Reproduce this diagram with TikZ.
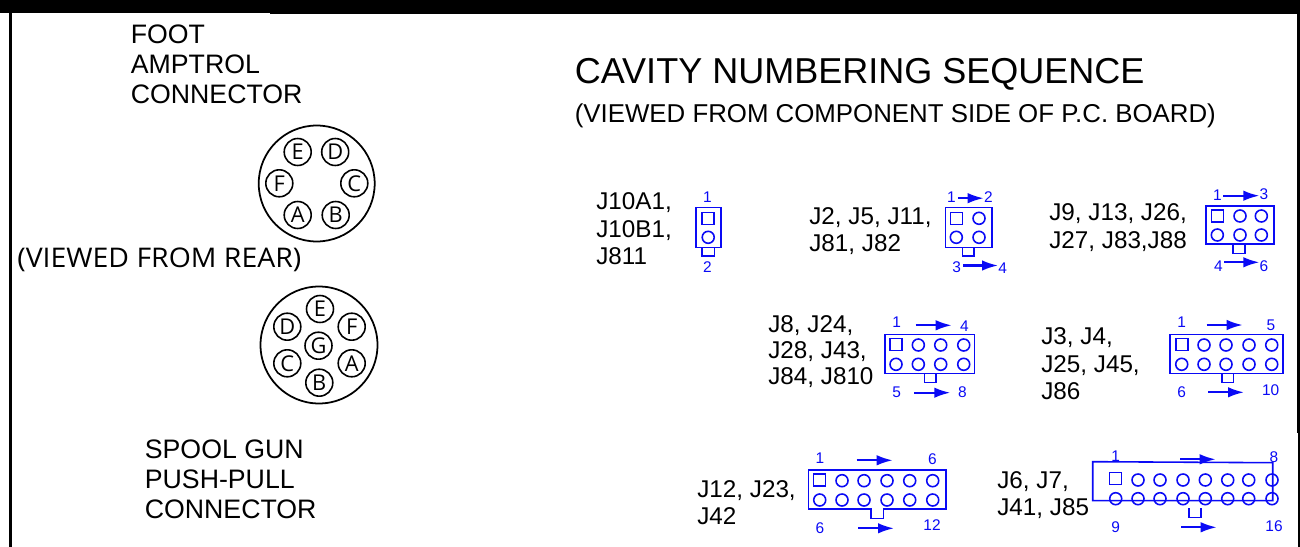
\documentclass[tikz,border=0pt]{standalone}
\usepackage{fontspec}
\setmainfont{Liberation Sans}
\newfontfamily\pinfont{Open Sans}
\usetikzlibrary{arrows.meta}
\definecolor{pinblue}{RGB}{10,10,245}
\tikzset{
  title/.style={anchor=west,inner sep=0pt,font=\fontsize{20.5pt}{20.5pt}\selectfont},
  subtitle/.style={anchor=west,inner sep=0pt,font=\fontsize{14.7pt}{15pt}\selectfont},
  legend/.style={anchor=west,inner sep=0pt,align=left,font=\fontsize{15.2pt}{17pt}\selectfont},
  jlist/.style={anchor=west,inner sep=0pt,align=left,font=\fontsize{13.8pt}{15.6pt}\selectfont},
  jtight/.style={jlist,font=\fontsize{13.8pt}{15pt}\selectfont},
  pin/.style={circle,draw,line width=0.9pt,minimum size=0.54cm,inner sep=0pt,font=\pinfont\fontsize{12.4pt}{12.4pt}\selectfont},
  num/.style={text=pinblue,inner sep=0pt,font=\fontsize{8.8pt}{8.8pt}\selectfont},
  cavity/.style={circle,draw=pinblue,line width=0.9pt,minimum size=0.24cm,inner sep=0pt},
  cavityone/.style={rectangle,draw=pinblue,line width=0.9pt,minimum size=0.24cm,inner sep=0pt},
  shell/.style={draw=pinblue,line width=0.9pt},
  seq/.style={draw=pinblue,line width=1.2pt,-{Latex[length=3.2mm,width=2.1mm]}},
}
\begin{document}
\begin{tikzpicture}[x=0.02cm,y=-0.02cm]
  \useasboundingbox (0,0) rectangle (1300,547);
  % sheet edges
  \fill (0,0) rectangle (1300,13.4);
  \fill (270,13) rectangle (1300,14.4);
  \fill (9.4,13) rectangle (11.7,547);
  \fill (1296.6,13) rectangle (1300,433);
  \fill (1298,433) rectangle (1300,547);

  % round connectors
  \node[legend] (foot) at (130.5,64) {FOOT\\AMPTROL\\CONNECTOR};
  \node[anchor=west,inner sep=0pt] (rear) at (17,260)
    {\scalebox{1.05}[1]{\pinfont\fontsize{15.4pt}{15.4pt}\selectfont (VIEWED FROM REAR)}};
  \node[legend] (spool) at (144.5,479) {SPOOL GUN\\PUSH-PULL\\CONNECTOR};

  \node[circle,draw,line width=1pt,minimum size=2.32cm,inner sep=0pt] (amptrol) at (316.7,183.5) {};
  \node[pin] (ampE) at (297.7,152) {E};
  \node[pin] (ampD) at (335.2,152) {D};
  \node[pin] (ampF) at (279.3,183.3) {F};
  \node[pin] (ampC) at (354.3,183.3) {C};
  \node[pin] (ampA) at (297.7,215) {A};
  \node[pin] (ampB) at (335.7,215) {B};

  \node[circle,draw,line width=1pt,minimum size=2.34cm,inner sep=0pt] (spoolgun) at (319,345) {};
  \node[pin] (gunE) at (320,309) {E};
  \node[pin] (gunD) at (287.3,326.7) {D};
  \node[pin] (gunF) at (351.7,326.7) {F};
  \node[pin] (gunG) at (318.5,345.7) {G};
  \node[pin] (gunC) at (287.3,363.3) {C};
  \node[pin] (gunA) at (351.7,363.3) {A};
  \node[pin] (gunB) at (319.3,382.7) {B};

  % headings
  \node[title] (cavtitle) at (574.5,74) {CAVITY NUMBERING SEQUENCE};
  \node[subtitle] (cavsub) at (574.5,115.5) {(VIEWED FROM COMPONENT SIDE OF P.C. BOARD)};

  % J10A1
  \node[jlist] (jten) at (596,229) {J10A1,\\J10B1,\\J811};
  \draw[shell] (695.7,207.7) rectangle (720.7,247.7);
  \draw[shell] (702,247.7) rectangle (714.3,256);
  \node[cavityone] (a1) at (708.2,218.5) {};
  \node[cavity] (a2) at (708.2,237.3) {};
  \node[num] (na1) at (707.3,197.5) {1};
  \node[num] (na2) at (707.3,267.5) {2};

  % J2
  \node[jlist] (jtwo) at (809,231) {J2, J5, J11,\\J81, J82};
  \draw[shell] (945.3,207.7) rectangle (991.7,247.7);
  \draw[shell] (962.3,247.7) rectangle (974,256);
  \node[cavityone] (b1) at (956.3,218.5) {};
  \node[cavity] (b2) at (979,218.3) {};
  \node[cavity] (b3) at (956.3,237.3) {};
  \node[cavity] (b4) at (979,237.3) {};
  \node[num] (nb1) at (951.3,197.5) {1};
  \node[num] (nb2) at (988.3,197.5) {2};
  \node[num] (nb3) at (956.7,267.5) {3};
  \node[num] (nb4) at (1002.7,268.5) {4};
  \draw[seq] (nb1.east) ++(2,0.7) coordinate (sb1) -- (nb2.west |- sb1);
  \draw[seq] (nb3.east) ++(2,-2) coordinate (sb3) -- (nb4.west |- sb3);

  % J9
  \node[jlist] (jnine) at (1049,227.5) {J9, J13, J26,\\J27, J83,J88};
  \draw[shell] (1205.7,206) rectangle (1274,244);
  \draw[shell] (1233,244) rectangle (1244.7,253.5);
  \node[cavityone] (c1) at (1217.5,216) {};
  \node[cavity] (c2) at (1240,216) {};
  \node[cavity] (c3) at (1261.3,216) {};
  \foreach \x [count=\i from 4] in {1217.3,1240,1261.3}
    \node[cavity] (c\i) at (\x,235) {};
  \node[num] (nc1) at (1217.3,195.2) {1};
  \node[num] (nc3) at (1264,194.5) {3};
  \node[num] (nc4) at (1218.3,265.7) {4};
  \node[num] (nc6) at (1264,265.7) {6};
  \draw[seq] (nc1.east) ++(1.5,0.5) coordinate (sc1) -- (nc3.west |- sc1);
  \draw[seq] (nc4.east) ++(1.5,-3.4) coordinate (sc4) -- (nc6.west |- sc4);

  % J8
  \node[jtight] (jeight) at (768,351.5) {J8, J24,\\J28, J43,\\J84, J810};
  \draw[shell] (884.7,334.3) rectangle (974.3,373.3);
  \draw[shell] (924.3,373.3) rectangle (936,382.7);
  \node[cavityone] (d1) at (896.2,344.3) {};
  \foreach \x [count=\i from 2] in {918.3,940.7,963.7}
    \node[cavity] (d\i) at (\x,345) {};
  \foreach \x [count=\i from 5] in {896,918.3,940.7,963.7}
    \node[cavity] (d\i) at (\x,364.3) {};
  \node[num] (nd1) at (896.7,322.3) {1};
  \node[num] (nd4) at (964.3,325.7) {4};
  \node[num] (nd5) at (896.7,392.3) {5};
  \node[num] (nd8) at (962.3,392.3) {8};
  \coordinate (sd1) at (915.7,325.3);
  \coordinate (ed1) at (951.7,325.3);
  \coordinate (sd5) at (914.3,392.7);
  \coordinate (ed5) at (950.3,392.7);
  \draw[seq] (sd1) -- (ed1);
  \draw[seq] (sd5) -- (ed5);

  % J3
  \node[jlist] (jthree) at (1041,364) {J3, J4,\\J25, J45,\\J86};
  \draw[shell] (1170,334.3) rectangle (1283,373.3);
  \draw[shell] (1221.7,373.3) rectangle (1233.3,382.7);
  \node[cavityone] (e1) at (1181.7,344.3) {};
  \foreach \x [count=\i from 2] in {1204,1226,1249,1271.7}
    \node[cavity] (e\i) at (\x,345) {};
  \foreach \x [count=\i from 6] in {1181.7,1204,1226,1249,1271.7}
    \node[cavity] (e\i) at (\x,364.3) {};
  \node[num] (ne1) at (1181.7,321.7) {1};
  \node[num] (ne5) at (1271,325) {5};
  \node[num] (ne6) at (1181.7,392.3) {6};
  \node[num] (ne10) at (1270.7,390) {10};
  \coordinate (se1) at (1206.7,325);
  \coordinate (ee1) at (1242.7,325);
  \coordinate (se6) at (1208.3,392.3);
  \coordinate (ee6) at (1244,392.3);
  \draw[seq] (se1) -- (ee1);
  \draw[seq] (se6) -- (ee6);

  % J12
  \node[jlist] (jtwelve) at (697,502.5) {J12, J23,\\J42};
  \draw[shell] (808.3,470) -- (946,470) -- (946,509) -- (883.3,509) -- (883.3,518.3)
    -- (871,518.3) -- (871,509) -- (808.3,509) -- cycle;
  \node[cavityone] (f1) at (819.5,480.2) {};
  \foreach \x [count=\i from 2] in {842,864,887,909.7,932.7}
    \node[cavity] (f\i) at (\x,480.7) {};
  \foreach \x [count=\i from 7] in {819.7,842,864,887,909.7,932.7}
    \node[cavity] (f\i) at (\x,500) {};
  \node[num] (nf1) at (820,457.7) {1};
  \node[num] (nf6) at (932.3,459.3) {6};
  \node[num] (nf7) at (820,528.3) {6};
  \node[num] (nf12) at (932,525) {12};
  \coordinate (sf1) at (856.7,460.3);
  \coordinate (ef1) at (892.7,460.3);
  \coordinate (sf7) at (858.3,528.3);
  \coordinate (ef7) at (894,528.3);
  \draw[seq] (sf1) -- (ef1);
  \draw[seq] (sf7) -- (ef7);

  % J6
  \node[jlist] (jsix) at (997,495) {J6, J7,\\J41, J85};
  \draw[shell] (1092.7,461.7) -- (1272.7,462.7) -- (1272.7,500.7) -- (1092.7,500.7) -- cycle;
  \draw[shell] (1189,508.3) -- (1189,517.3) -- (1200.7,517.3) -- (1200.7,508.3);
  \node[cavityone] (g1) at (1115.5,478.7) {};
  \foreach \x [count=\i from 2] in {1138,1160,1183,1205.3,1227.7,1248.7,1272}
    \node[cavity] (g\i) at (\x,480) {};
  \foreach \x [count=\i from 9] in {1115.7,1138,1160,1183,1205.3,1227.7,1248.7,1272}
    \node[cavity] (g\i) at (\x,498.7) {};
  \node[num] (ng1) at (1115.7,456) {1};
  \node[num] (ng8) at (1274,456.7) {8};
  \node[num] (ng9) at (1115.7,527.3) {9};
  \node[num] (ng16) at (1274,525.7) {16};
  \coordinate (sg1) at (1180,459.3);
  \coordinate (eg1) at (1215.7,459.3);
  \coordinate (sg9) at (1181,527.3);
  \coordinate (eg9) at (1216.7,527.3);
  \draw[seq] (sg1) -- (eg1);
  \draw[seq] (sg9) -- (eg9);
\end{tikzpicture}
\end{document}
